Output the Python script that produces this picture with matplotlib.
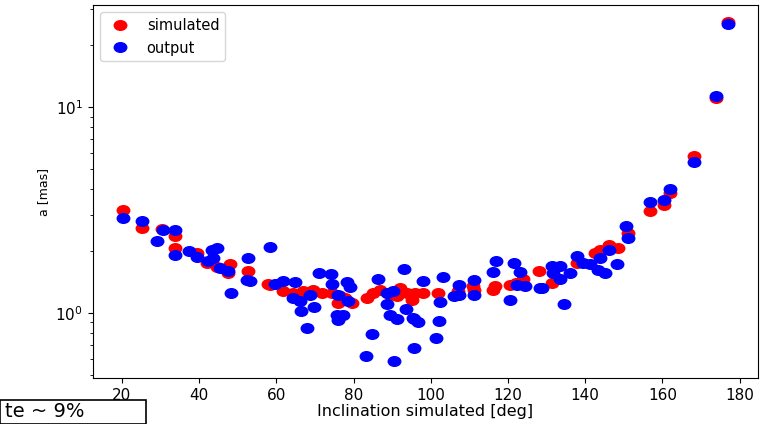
import numpy as np
import matplotlib
matplotlib.use("Agg")
import matplotlib.pyplot as plt
from matplotlib.path import Path
from matplotlib.transforms import Affine2D
from matplotlib.patches import Rectangle

# simulated values (red)
inc_sim = [20.3, 25.2, 30.4, 33.7, 33.7, 39.4, 42.0, 44.6, 48.0, 47.5, 52.6, 57.9,
           58.4, 61.7, 64.3, 67.0, 69.6, 71.8, 74.4, 76.5, 75.9, 79.6, 77.8,
           83.5, 85.0, 86.8, 89.5, 91.3, 92.0, 93.8, 95.9, 95.1, 98.0, 101.9,
           107.0, 110.9, 111.2, 116.6, 116.1, 120.5, 123.9, 122.0, 128.0, 131.4,
           137.9, 142.5, 143.8, 146.2, 148.5, 151.1, 156.8, 160.4, 162.0,
           168.2, 173.9, 177.0]
a_sim = [3.18, 2.60, 2.57, 2.37, 2.07, 1.96, 1.75, 1.68, 1.73, 1.57, 1.60, 1.38,
         1.37, 1.28, 1.25, 1.28, 1.30, 1.25, 1.25, 1.21, 1.12, 1.12, 1.18,
         1.18, 1.25, 1.30, 1.22, 1.21, 1.32, 1.25, 1.25, 1.16, 1.25, 1.25,
         1.28, 1.35, 1.30, 1.35, 1.30, 1.37, 1.46, 1.40, 1.60, 1.40,
         1.75, 1.96, 2.03, 2.15, 2.07, 2.46, 3.14, 3.37, 3.85,
         5.83, 11.1, 26.0]

# output values (blue)
inc_out = [20.3, 25.2, 30.6, 33.7, 29.1, 33.7, 37.4, 39.4, 43.3, 44.6, 42.3, 43.6,
           45.4, 47.5, 52.6, 52.3, 53.1, 48.3, 58.4, 59.7, 61.7, 64.8, 71.0,
           74.2, 74.4, 78.3, 79.1, 86.3, 93.0, 90.2, 88.7, 64.3, 66.1, 68.7,
           66.4, 69.7, 67.9, 76.0, 78.5, 75.7, 77.3, 76.0, 88.7, 89.5, 91.3,
           93.5, 95.6, 84.8, 83.2, 90.5, 95.6, 95.4, 96.7, 101.3, 102.1, 98.0,
           103.2, 102.4, 106.0, 107.3, 107.3, 111.2, 111.2, 116.1, 117.0, 121.6,
           123.1, 122.3, 124.4, 120.5, 128.3, 128.8, 131.4, 133.5, 131.7, 136.1,
           133.5, 134.5, 137.9, 139.5, 141.3, 143.3, 145.1, 143.8, 146.2, 148.3,
           150.6, 151.1, 156.8, 160.4, 162.0, 168.2, 173.9, 177.0]
a_out = [2.91, 2.81, 2.54, 2.54, 2.25, 1.92, 2.00, 1.88, 2.03, 2.07, 1.79, 1.86,
         1.66, 1.60, 1.86, 1.45, 1.43, 1.25, 2.10, 1.39, 1.43, 1.42, 1.57,
         1.55, 1.39, 1.42, 1.34, 1.46, 1.64, 1.28, 1.25, 1.18, 1.14, 1.22,
         1.02, 1.07, 0.845, 1.22, 1.14, 0.98, 0.98, 0.925, 1.11, 0.98, 0.935,
         1.05, 0.935, 0.79, 0.617, 0.583, 0.675, 0.95, 0.90, 0.76, 0.91, 1.43,
         1.50, 1.13, 1.21, 1.22, 1.37, 1.22, 1.45, 1.58, 1.79, 1.75,
         1.58, 1.37, 1.35, 1.16, 1.32, 1.32, 1.69, 1.69, 1.57, 1.57,
         1.46, 1.11, 1.90, 1.75, 1.73, 1.62, 1.57, 1.86, 2.03, 1.73,
         2.66, 2.32, 3.48, 3.56, 4.03, 5.45, 11.4, 25.4]

# the picture is stretched sideways, so the dots are little ellipses
ellipse = Path.unit_circle().transformed(Affine2D().scale(1.3, 1.0))

fig = plt.figure(figsize=(7.73, 4.24), dpi=100)
ax = fig.add_axes([0.120, 0.108, 0.861, 0.880])

ax.plot(inc_sim, a_sim, linestyle="none", marker=ellipse, markersize=9,
        color="red", label="simulated")
ax.plot(inc_out, a_out, linestyle="none", marker=ellipse, markersize=9,
        color="blue", label="output")
ax.set_yscale("log")

ax.set_xticks(np.arange(20, 181, 20))
ax.tick_params(labelsize=11)
ax.set_xlabel("Inclination simulated [deg]", fontsize=11.5, labelpad=1)
ax.set_ylabel("a [mas]", fontsize=9)
ax.legend(loc="upper left", fontsize=10.5)

# leftover box from another screenshot at the bottom left
fig.patches.append(Rectangle((0, 0), 146 / 773, 24 / 424, transform=fig.transFigure,
                             facecolor="white", edgecolor="black", linewidth=1.2))
fig.text(0.006, 0.006, "te ~ 9%", fontsize=14, va="bottom", ha="left")

fig.savefig("out.png", dpi=100)
